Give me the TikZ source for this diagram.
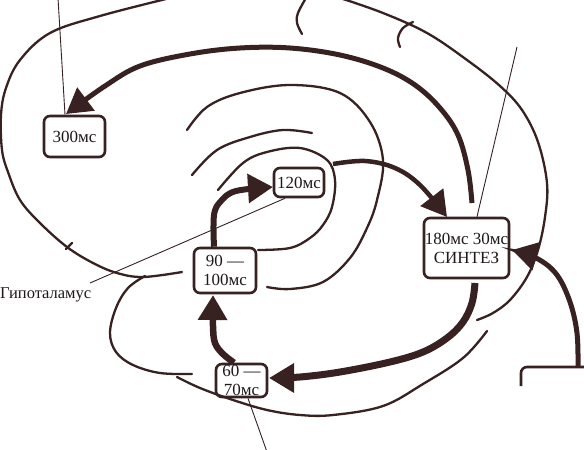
\documentclass[tikz,border=0pt]{standalone}
\usepackage{fontspec}
\setmainfont{Liberation Serif}
\usetikzlibrary{arrows.meta}
\definecolor{ink}{RGB}{55,33,33}
\definecolor{txt}{RGB}{30,24,24}
\begin{document}
\begin{tikzpicture}[x=1pt,y=-1pt,
  box/.style={draw=ink,line width=2.6pt,rounded corners=6pt,fill=white,inner sep=0pt,text=txt,font=\fontsize{17}{19}\selectfont,align=center},
  med/.style={draw=ink,line width=2.3pt,line cap=round},
  thinline/.style={draw=ink,line width=0.9pt},
  fat/.style={draw=ink,-{Triangle[length=25pt,width=28pt]}},
  lbl/.style={text=txt,font=\fontsize{16.5}{19}\selectfont,inner sep=0pt}
]
\useasboundingbox (0,0) rectangle (584,450);
\fill[white] (0,0) rectangle (584,450);
\clip (0,0) rectangle (584,450);

% boxes
\node[box,minimum width=61pt,minimum height=41pt] (b300) at (74.5,136.5) {300мс};
\node[box,minimum width=50pt,minimum height=29pt] (b120) at (299,182.5) {120мс};
\node[box,minimum width=62pt,minimum height=45pt] (b90) at (225,270.5) {90 —\\100мс};
\node[box,minimum width=51pt,minimum height=33pt] (b60) at (241.5,380.5) {60 —\\70мс};
\node[box,minimum width=85pt,minimum height=60pt] (bsyn) at (466.5,248) {180мс\ 30мс\\СИНТЕЗ};
\node[lbl,anchor=west] (hyp) at (0,295) {Гипоталамус};
\draw[ink,line width=2.6pt,rounded corners=6pt] (521,386) -- (521,367) -- (590,367);

% named end points
\coordinate (t1) at (66,114);
\coordinate (t2) at (447,217);
\coordinate (t3) at (273,187);
\coordinate (t4) at (213,295);
\coordinate (t5) at (269,378);
\coordinate (t6) at (512,250);

% medium curves
\draw[med] plot[smooth,tension=0.6] coordinates {(170,-2) (100,16) (50,33) (20,60) (6,88) (1,115) (2,150) (8,172) (20,200) (40,223) (67,247) (93,263) (117,273) (143,277) (182,272)};
\draw[med] (66,249) -- (72,243);
\draw[med] plot[smooth,tension=0.6] coordinates {(145,276) (128,288) (116,308) (110,333) (116,352) (133,365) (160,373) (192,374)};
\draw[med] plot[smooth,tension=0.6] coordinates {(177,377) (200,388) (233,400) (267,410) (300,415) (333,415) (383,406) (423,384) (463,358) (487,331)};
\draw[med] plot[smooth,tension=0.6] coordinates {(340,-2) (383,13) (427,33) (467,60) (500,86) (522,110) (538,142) (547,183) (545,217) (538,250) (527,277) (510,300) (493,313) (477,320)};
\draw[med] plot[smooth,tension=0.6] coordinates {(413,22) (403,28) (398,38) (400,47)};
\draw[med] plot[smooth,tension=0.6] coordinates {(306,-2) (298,13) (297,23) (302,34)};
\draw[med] plot[smooth,tension=0.6] coordinates {(187,130) (207,107) (240,93) (290,85) (340,93) (370,122) (383,160) (377,200) (367,228) (350,258) (323,282) (290,289) (267,287)};
\draw[med] plot[smooth,tension=0.6] coordinates {(192,175) (217,150) (250,137) (283,130) (312,133)};
\draw[med] plot[smooth,tension=0.6] coordinates {(218,190) (243,163) (267,152) (300,148) (327,160) (335,180) (332,207) (323,225) (310,238) (290,248) (258,250)};

% thin leaders
\draw[thinline] (58,-2) -- (b300.north -| 65,0);
\draw[thinline] (517,47) -- (bsyn.north -| 477,0);
\draw[thinline] (b120.south -| 285,0) -- (90,283);
\draw[thinline] (b60.south -| 248,0) -- (267,452);

% thick arrows
\draw[fat,line width=5pt] plot[smooth,tension=0.6] coordinates {(472,203) (468,170) (458,135) (440,108) (415,85) (383,68) (340,55) (290,48) (240,48) (190,54) (140,66) (105,86) (t1)};
\draw[fat,line width=4.5pt] plot[smooth,tension=0.6] coordinates {(333,164) (365,161) (395,168) (420,185) (t2)};
\draw[fat,line width=6pt] plot[smooth,tension=0.6] coordinates {(b90.north -| 214,0) (214,215) (221,201) (236,191) (t3)};
\draw[fat,line width=6.5pt] plot[smooth,tension=0.6] coordinates {(b60.north -| 234,0) (223,354) (215,343) (213,326) (t4)};
\draw[fat,line width=7pt] plot[smooth,tension=0.6] coordinates {(475,283) (472,303) (463,322) (447,338) (423,352) (390,362) (340,372) (300,377) (t5)};
\draw[fat,line width=5pt] plot[smooth,tension=0.6] coordinates {(578,367) (577,333) (570,302) (557,275) (538,259) (t6)};
\end{tikzpicture}
\end{document}
